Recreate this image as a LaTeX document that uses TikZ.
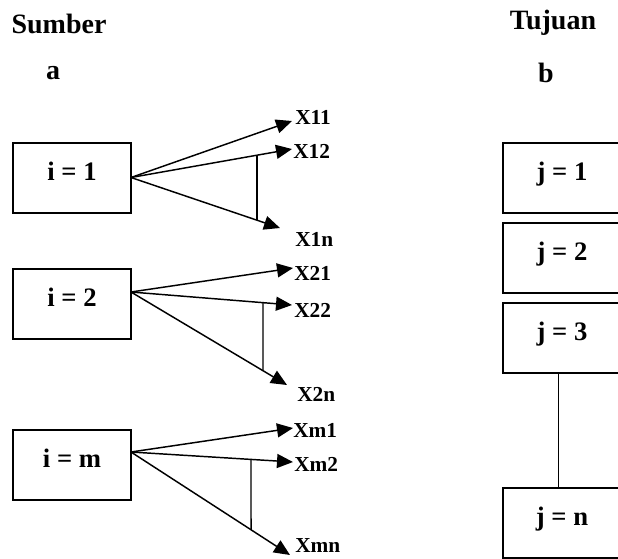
\documentclass[tikz,border=0pt]{standalone}
\usepackage{fontspec}
\setmainfont{Liberation Serif}
\usetikzlibrary{arrows.meta,positioning,calc}
\tikzset{
  nodebox/.style={rectangle, draw, line width=1.5pt, minimum width=88.5pt,
                  minimum height=52.5pt, inner sep=0pt, text depth=10pt,
                  font=\fontsize{20}{24}\selectfont\bfseries},
  head/.style={font=\fontsize{21}{25}\selectfont\bfseries, inner sep=0pt},
  xlabel/.style={anchor=west, inner sep=0pt, font=\fontsize{16}{19}\selectfont\bfseries},
  flow/.style={-{Triangle[length=12pt,width=10.5pt]}, line width=1.1pt},
  tick/.style={line width=1.1pt},
}

\begin{document}
\begin{tikzpicture}[x=0.75pt, y=-0.75pt]
  \useasboundingbox (0,0) rectangle (618,558);
  % headings
  \node[head] (sumber) at (59,24) {Sumber};
  \node[head] (a) at (53,73) {a};
  \node[head] (tujuan) at (553,23) {Tujuan};
  \node[head] (b) at (546,73) {b};
  % source boxes
  \node[nodebox] (i1) at (72,177.5) {i = 1};
  \node[nodebox] (i2) at (72,304) {i = 2};
  \node[nodebox] (im) at (72,464.5) {i = m};
  % destination boxes
  \node[nodebox] (j1) at (562,177.5) {j = 1};
  \node[nodebox] (j2) at (562,258) {j = 2};
  \node[nodebox] (j3) at (562,338) {j = 3};
  \node[nodebox] (jn) at (562,522.5) {j = n};
  \draw[tick] ([xshift=-2.5pt]j3.south) -- ([xshift=-2.5pt]jn.north);
  % i = 1
  \coordinate (o1) at (131,177.5);
  \coordinate (t11) at (292,121);
  \coordinate (t12) at (292,149);
  \coordinate (t1n) at (280,228);
  \node[xlabel] (x11) at (295,117) {X11};
  \node[xlabel] (x12) at (293,151) {X12};
  \node[xlabel] (x1n) at (295,239) {X1n};
  \draw[flow] (o1) -- (t11);
  \draw[flow] (o1) -- (t12);
  \draw[flow] (o1) -- (t1n);
  \draw[tick] (intersection of o1--t12 and 257,0--257,600) -- (intersection of o1--t1n and 257,0--257,600);
  % i = 2
  \coordinate (o2) at (131,292);
  \coordinate (t21) at (293,268);
  \coordinate (t22) at (292,305);
  \coordinate (t2n) at (287,385);
  \node[xlabel] (x21) at (294,273) {X21};
  \node[xlabel] (x22) at (294,310) {X22};
  \node[xlabel] (x2n) at (297,394) {X2n};
  \draw[flow] (o2) -- (t21);
  \draw[flow] (o2) -- (t22);
  \draw[flow] (o2) -- (t2n);
  \draw[tick] (intersection of o2--t22 and 263,0--263,600) -- (intersection of o2--t2n and 263,0--263,600);
  % i = m
  \coordinate (om) at (131,452);
  \coordinate (tm1) at (293,428);
  \coordinate (tm2) at (293,462);
  \coordinate (tmn) at (290,555);
  \node[xlabel] (xm1) at (293,430) {Xm1};
  \node[xlabel] (xm2) at (294,464) {Xm2};
  \node[xlabel] (xmn) at (295,546) {Xmn};
  \draw[flow] (om) -- (tm1);
  \draw[flow] (om) -- (tm2);
  \draw[flow] (om) -- (tmn);
  \draw[tick] (intersection of om--tm2 and 251,0--251,600) -- (intersection of om--tmn and 251,0--251,600);
\end{tikzpicture}
\end{document}
